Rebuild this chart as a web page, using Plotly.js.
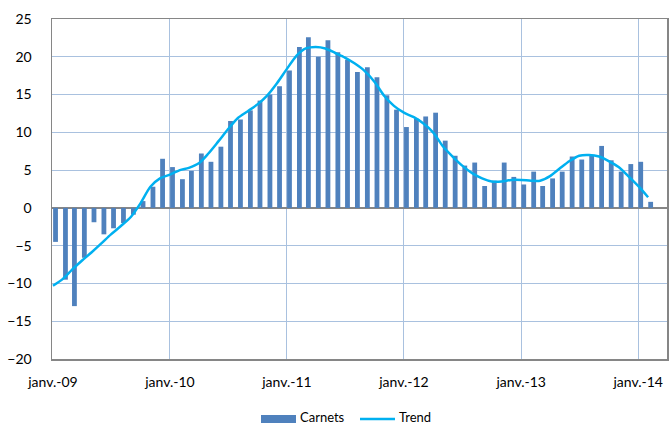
<!DOCTYPE html>
<html>
<head>
<meta charset="utf-8">
<script src="https://cdn.plot.ly/plotly-3.0.1.min.js"></script>
<style>html,body{margin:0;padding:0;background:#fff;}#chart{width:672px;height:425px;}</style>
</head>
<body>
<div id="chart"></div>
<script>
// Monthly categories: janv. 2009 -> févr. 2014
const months = [];
for (let y = 2009; y <= 2014; y++) {
  for (let m = 1; m <= 12; m++) {
    if (y === 2014 && m > 2) break;
    months.push(y + '-' + String(m).padStart(2, '0') + '-01');
  }
}

const carnets = [
  -4.5, -9.5, -13.0, -6.6, -1.9, -3.5, -2.7, -2.0, -0.9, 0.9, 2.8, 6.5,
  5.4, 3.8, 4.9, 7.2, 6.1, 8.1, 11.5, 11.7, 12.9, 14.2, 15.0, 16.1,
  18.2, 21.3, 22.6, 20.0, 22.2, 20.6, 19.6, 18.0, 18.6, 17.3, 14.9, 13.0,
  10.7, 11.8, 12.1, 12.6, 8.9, 6.9, 5.6, 6.0, 2.9, 3.6, 6.0, 4.1,
  3.1, 4.8, 2.9, 3.9, 4.8, 6.8, 6.4, 6.9, 8.2, 6.3, 4.8, 5.8,
  6.1, 0.8
];

const trend = [
  -10.3, -9.4, -8.2, -7.0, -5.9, -4.7, -3.5, -2.4, -1.2, 0.6, 2.8, 3.9,
  4.4, 5.0, 5.3, 5.9, 7.2, 8.8, 10.4, 11.9, 12.8, 13.7, 14.9, 16.5,
  18.4, 20.2, 21.1, 21.3, 21.1, 20.5, 19.9, 19.1, 18.1, 16.7, 14.8, 13.5,
  12.6, 12.0, 11.2, 10.0, 8.2, 6.8, 5.6, 4.6, 3.9, 3.5, 3.5, 3.7,
  3.7, 3.6, 3.6, 4.2, 5.2, 6.2, 6.9, 7.0, 6.8, 6.2, 5.4, 4.2,
  2.9, 1.4
];

const tickDates = ['2009-01-01','2010-01-01','2011-01-01','2012-01-01','2013-01-01','2014-01-01'];
const tickLabels = ['janv.-09','janv.-10','janv.-11','janv.-12','janv.-13','janv.-14'];
const seriesNames = ['Carnets', 'Trend'];
const BAR_COLOR = '#4f81bd';
const LINE_COLOR = '#00b0f0';

const FONT = 'Lato, "Open Sans", sans-serif';
const DAY = 86400000;

const data = [
  {
    type: 'bar', name: seriesNames[0], x: months, y: carnets,
    width: 15 * DAY, offset: 0.5 * DAY,
    marker: {color: BAR_COLOR}
  },
  {
    type: 'scatter', mode: 'lines', name: seriesNames[1], x: months, y: trend,
    line: {color: LINE_COLOR, width: 2.5, shape: 'spline', smoothing: 0.8}
  }
];

// Plot area in pixels: x 52..667, y 19..359
const PX = px => (px - 52) / 615;
const PY = py => (359 - py) / 340;

const layout = {
  width: 672, height: 425,
  margin: {l: 52, r: 5, t: 19, b: 66},
  paper_bgcolor: '#ffffff', plot_bgcolor: '#ffffff',
  font: {family: FONT, size: 14, color: '#000000'},
  showlegend: false,
  xaxis: {
    type: 'date',
    range: ['2008-12-29', '2014-04-01'],
    tickmode: 'array', tickvals: tickDates, ticktext: tickLabels,
    showgrid: true, gridcolor: '#a9c1df', gridwidth: 1,
    showline: true, linecolor: '#868686', linewidth: 1.5, mirror: true,
    ticks: '', ticklabelstandoff: 10,
    tickfont: {family: FONT, size: 14, color: '#000'},
    zeroline: false
  },
  yaxis: {
    range: [-20, 25], dtick: 5, tick0: 0,
    showgrid: true, gridcolor: '#a9c1df', gridwidth: 1,
    showline: true, linecolor: '#868686', linewidth: 1.5, mirror: true,
    zeroline: true, zerolinecolor: '#868686', zerolinewidth: 1.5,
    ticks: '', ticklabelstandoff: 16,
    tickfont: {family: FONT, size: 14, color: '#000'}
  },
  shapes: [
    {type: 'rect', xref: 'paper', yref: 'paper',
     x0: PX(261), x1: PX(296), y0: PY(423), y1: PY(415),
     fillcolor: BAR_COLOR, line: {width: 0}},
    {type: 'line', xref: 'paper', yref: 'paper',
     x0: PX(360), x1: PX(395), y0: PY(419), y1: PY(419),
     line: {color: LINE_COLOR, width: 2.5}}
  ],
  annotations: [
    {xref: 'paper', yref: 'paper', x: PX(298), y: PY(416.5),
     xanchor: 'left', yanchor: 'middle', showarrow: false,
     text: seriesNames[0], font: {family: FONT, size: 13, color: '#000'}},
    {xref: 'paper', yref: 'paper', x: PX(397), y: PY(416.5),
     xanchor: 'left', yanchor: 'middle', showarrow: false,
     text: seriesNames[1], font: {family: FONT, size: 13, color: '#000'}}
  ]
};

Plotly.newPlot('chart', data, layout, {displayModeBar: false, staticPlot: true});
</script>
</body>
</html>
